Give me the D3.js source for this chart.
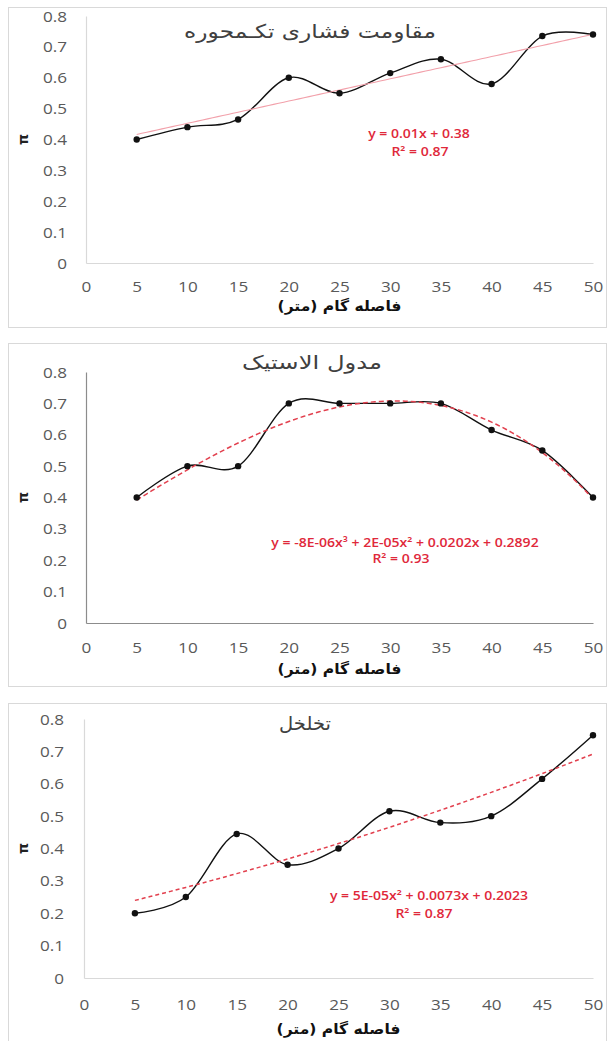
<!DOCTYPE html>
<html><head><meta charset="utf-8">
<script src="https://cdn.jsdelivr.net/npm/d3@7"></script>
<style>
html,body{margin:0;padding:0;background:#fff;}
svg{display:block;}
</style></head><body>
<svg id="chart" width="609" height="1041"></svg>
<script>
// Lag distance (m) for every point
const distances = [5, 10, 15, 20, 25, 30, 35, 40, 45, 50];
// Normalised variogram values of each rock property
const strengthValues = [0.40, 0.44, 0.465, 0.60, 0.55, 0.615, 0.66, 0.58, 0.735, 0.74];
const modulusValues  = [0.40, 0.50, 0.50, 0.70, 0.70, 0.70, 0.70, 0.615, 0.55, 0.40];
const porosityValues = [0.20, 0.25, 0.445, 0.35, 0.40, 0.515, 0.48, 0.50, 0.615, 0.75];

const panelTitles = ["مقاومت فشاری تکـمحوره", "مدول الاستیک", "تخلخل"];
const trendDegrees = [1, 3, 2];
const trendEquations = [
  "y = 0.01x + 0.38",
  "y = -8E-06x³ + 2E-05x² + 0.0202x + 0.2892",
  "y = 5E-05x² + 0.0073x + 0.2023"
];
const trendR2 = ["R² = 0.87", "R² = 0.93", "R² = 0.87"];

const xTicks = [0, 5, 10, 15, 20, 25, 30, 35, 40, 45, 50];
const yTicks = [0, 0.1, 0.2, 0.3, 0.4, 0.5, 0.6, 0.7, 0.8];
const xAxisTitle = "فاصله گام (متر)";
const yAxisTitle = "π";

const seriesList = [strengthValues, modulusValues, porosityValues];

// Page layout of the three stacked charts
const layouts = [
  { frame: [8, 7, 606, 327],   x0: 86, x1: 593, yTop: 16,  yBot: 263, tickX: 67, xLabY: 287,  xTitleY: 306,
    titleX: 310, titleY: 31, titleW: 252, eqX: 419, eqY: 133, r2X: 420, r2Y: 151, axis: "#d9d9d9",
    trend: { stroke: "#f2a0aa", width: 1.1, dash: null } },
  { frame: [8, 343, 606, 686], x0: 86, x1: 593, yTop: 372, yBot: 623, tickX: 67, xLabY: 648,  xTitleY: 669,
    titleX: 312, titleY: 362, titleW: 140, eqX: 405, eqY: 542, r2X: 401, r2Y: 558, axis: "#8c8c8c",
    trend: { stroke: "#e2404e", width: 1.5, dash: "5,3" } },
  { frame: [8, 703, 606, 1046], x0: 84, x1: 593, yTop: 719, yBot: 978, tickX: 64, xLabY: 1005, xTitleY: 1029,
    titleX: 305, titleY: 724, titleW: 52, eqX: 429, eqY: 895, r2X: 424, r2Y: 913, axis: "#d9d9d9",
    trend: { stroke: "#e2404e", width: 1.5, dash: "4,3" } }
];
const numStretch = 1.18;   // horizontal widening of numeric labels
const eqStretch = 1.17;
const xTitleW = 124;

// Least-squares polynomial fit (normal equations, Gaussian elimination)
function polyFit(xs, ys, deg) {
  const n = deg + 1;
  const A = Array.from({ length: n }, () => new Array(n + 1).fill(0));
  xs.forEach((x, k) => {
    for (let i = 0; i < n; i++) {
      for (let j = 0; j < n; j++) A[i][j] += Math.pow(x, i + j);
      A[i][n] += ys[k] * Math.pow(x, i);
    }
  });
  for (let c = 0; c < n; c++) {
    let p = c;
    for (let r = c + 1; r < n; r++) if (Math.abs(A[r][c]) > Math.abs(A[p][c])) p = r;
    [A[c], A[p]] = [A[p], A[c]];
    for (let r = 0; r < n; r++) {
      if (r === c) continue;
      const f = A[r][c] / A[c][c];
      for (let k = c; k <= n; k++) A[r][k] -= f * A[c][k];
    }
  }
  return A.map((row, i) => row[n] / A[i][i]);
}
const polyEval = (coef, x) => coef.reduce((s, c, i) => s + c * Math.pow(x, i), 0);

const svg = d3.select("#chart");
const numFont = "'Open Sans', 'Liberation Sans', sans-serif";
const arFont = "'DejaVu Sans', sans-serif";

// Centred text stretched horizontally to a given width
function fitText(g, cx, cy, str, width, attrs) {
  const t = g.append("text")
    .attr("x", 0).attr("y", 0)
    .attr("direction", "rtl")
    .attr("text-anchor", "middle").attr("dominant-baseline", "central")
    .text(str);
  Object.entries(attrs).forEach(([k, v]) => t.attr(k, v));
  const w = t.node().getComputedTextLength();
  t.attr("transform", `translate(${cx},${cy}) scale(${width / w},1)`);
  return t;
}

layouts.forEach((L, idx) => {
  const values = seriesList[idx];
  const g = svg.append("g");
  const [fx0, fy0, fx1, fy1] = L.frame;

  g.append("rect")
    .attr("x", fx0 + 0.5).attr("y", fy0 + 0.5)
    .attr("width", fx1 - fx0).attr("height", fy1 - fy0)
    .attr("fill", "#fff").attr("stroke", "#d9d9d9").attr("stroke-width", 1);

  const x = d3.scaleLinear().domain([0, 50]).range([L.x0, L.x1]);
  const y = d3.scaleLinear().domain([0, 0.8]).range([L.yBot, L.yTop]);

  // Axes
  const xAxis = g.append("g").attr("transform", `translate(0,${L.yBot})`)
    .call(d3.axisBottom(x).tickValues(xTicks).tickSize(0).tickPadding(0).tickFormat(d3.format("d")));
  xAxis.select(".domain").attr("stroke", L.axis).attr("stroke-width", 1.2);
  xAxis.selectAll("text")
    .attr("y", (L.xLabY - L.yBot)).attr("dy", "0.35em")
    .attr("transform", `scale(${numStretch},1)`)
    .attr("font-family", numFont).attr("font-size", 14.5).attr("fill", "#595959");

  const yAxis = g.append("g").attr("transform", `translate(${L.x0},0)`)
    .call(d3.axisLeft(y).tickValues(yTicks).tickSize(0).tickPadding(0)
      .tickFormat(d => d === 0 ? "0" : d3.format(".1f")(d)));
  yAxis.select(".domain").attr("stroke", L.axis).attr("stroke-width", 1.2);
  yAxis.selectAll("text")
    .attr("x", (L.tickX - L.x0) / numStretch).attr("dy", "0.35em")
    .attr("transform", `scale(${numStretch},1)`)
    .attr("font-family", numFont).attr("font-size", 14.5).attr("fill", "#595959");

  // Axis titles
  g.append("text")
    .attr("x", 23).attr("y", y(0.4))
    .attr("transform", `rotate(-90,23,${y(0.4)})`)
    .attr("text-anchor", "middle").attr("dominant-baseline", "central")
    .attr("font-family", "'DejaVu Sans', sans-serif").attr("font-weight", "bold")
    .attr("font-size", 14).attr("fill", "#222")
    .text(yAxisTitle);

  fitText(g, x(25), L.xTitleY, xAxisTitle, xTitleW, {
    "font-family": arFont, "font-weight": "bold", "font-size": 14.5, "fill": "#111"
  });

  // Chart title
  fitText(g, L.titleX, L.titleY, panelTitles[idx], L.titleW, {
    "font-family": arFont, "font-size": 19, "fill": "#404040"
  });

  const pts = distances.map((d, i) => [d, values[i]]);

  // Smoothed data line
  g.append("path")
    .datum(pts)
    .attr("fill", "none").attr("stroke", "#111").attr("stroke-width", 1.4)
    .attr("d", d3.line().x(d => x(d[0])).y(d => y(d[1])).curve(d3.curveCardinal.tension(0)));

  // Polynomial trendline fitted to the points
  const coef = polyFit(distances, values, trendDegrees[idx]);
  const trendPts = d3.range(5, 50.001, 0.5).map(d => [d, polyEval(coef, d)]);
  const tp = g.append("path")
    .datum(trendPts)
    .attr("fill", "none").attr("stroke", L.trend.stroke).attr("stroke-width", L.trend.width)
    .attr("d", d3.line().x(d => x(d[0])).y(d => y(d[1])));
  if (L.trend.dash) tp.attr("stroke-dasharray", L.trend.dash);

  // Markers
  g.selectAll("circle.pt").data(pts).enter().append("circle")
    .attr("class", "pt")
    .attr("cx", d => x(d[0])).attr("cy", d => y(d[1])).attr("r", 3.2)
    .attr("fill", "#111");

  // Trendline equation and R²
  [[trendEquations[idx], L.eqX, L.eqY], [trendR2[idx], L.r2X, L.r2Y]].forEach(([str, tx, ty]) => {
    g.append("text")
      .attr("x", 0).attr("y", 0)
      .attr("transform", `translate(${tx},${ty}) scale(${eqStretch},1)`)
      .attr("text-anchor", "middle").attr("dominant-baseline", "central")
      .attr("font-family", numFont).attr("font-weight", "600")
      .attr("font-size", 12).attr("fill", "#e0283a")
      .text(str);
  });
});
</script>
</body></html>
